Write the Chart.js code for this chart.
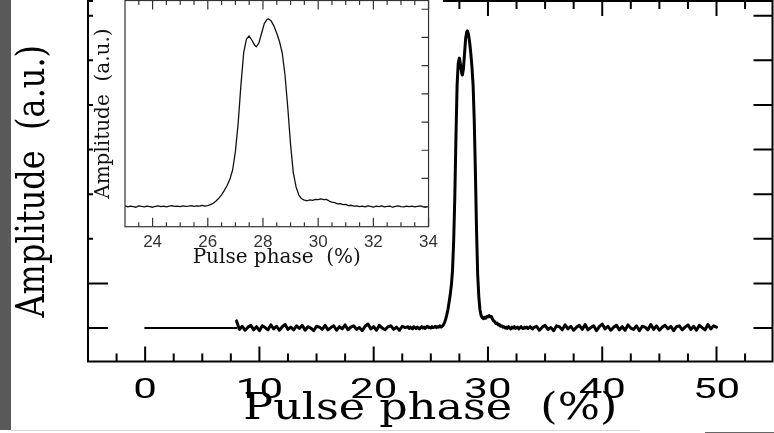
<html lang="en">
<head>
    <meta charset="UTF-8">
    <title>Pulse profile</title>
    <script src="https://cdn.jsdelivr.net/npm/chart.js"></script>
    <style>
        body { margin: 0; background: #fff; }
        #wrap { position: relative; width: 774px; height: 433px; overflow: hidden; }
        #main { position: absolute; left: 0; top: 0; }
        #insetBox { position: absolute; left: 93px; top: 0; width: 350px; height: 276px; background: #fff; }
        #strip { position: absolute; left: 0; top: 0; width: 11px; height: 430px; background: #595959; }
        #lineA { position: absolute; left: 11px; top: 430px; width: 629px; height: 1px; background: #d8d8d8; }
        #lineB { position: absolute; left: 705px; top: 432px; width: 69px; height: 1px; background: #666; }
    </style>
</head>
<body>
<div id="wrap">
    <canvas id="main" width="774" height="433"></canvas>
    <div id="insetBox"><canvas id="inset" width="350" height="276"></canvas></div>
    <div id="strip"></div>
    <div id="lineA"></div>
    <div id="lineB"></div>
</div>

<script>
    // --- data ---
    const xTitle = 'Pulse phase  (%)';
    const yTitle = 'Amplitude  (a.u.)';

    // flat (unsampled) stretch at the start
    const flatPhase = [0, 8];
    const flatAmplitude = [0, 0];

    // pulse phase (%) of the sampled profile
    const phase = [
        8, 8.25, 8.5, 8.75, 9, 9.25, 9.5, 9.75, 10, 10.25,
        10.5, 10.75, 11, 11.25, 11.5, 11.75, 12, 12.25, 12.5, 12.75,
        13, 13.25, 13.5, 13.75, 14, 14.25, 14.5, 14.75, 15, 15.25,
        15.5, 15.75, 16, 16.25, 16.5, 16.75, 17, 17.25, 17.5, 17.75,
        18, 18.25, 18.5, 18.75, 19, 19.25, 19.5, 19.75, 20, 20.25,
        20.5, 20.75, 21, 21.25, 21.5, 21.75, 22, 22.25, 22.5, 22.75,
        23, 23.1, 23.2, 23.3, 23.4, 23.5, 23.6, 23.7, 23.8, 23.9,
        24, 24.1, 24.2, 24.3, 24.4, 24.5, 24.6, 24.7, 24.8, 24.9,
        25, 25.1, 25.2, 25.3, 25.4, 25.5, 25.6, 25.7, 25.8, 25.9,
        26, 26.1, 26.2,
        26.3, 26.4, 26.5, 26.6, 26.7, 26.8, 26.9, 27, 27.1, 27.2,
        27.3, 27.4, 27.5, 27.6, 27.7, 27.76, 27.85, 27.95, 28.05, 28.15,
        28.2, 28.3, 28.4, 28.5, 28.6, 28.7, 28.8, 28.9, 29, 29.1,
        29.2, 29.3, 29.4, 29.5, 29.6, 29.7, 29.8, 29.9, 30, 30.1,
        30.2, 30.3, 30.4, 30.5, 30.6, 30.7, 30.8, 30.9, 31, 31.1,
        31.2, 31.3,
        31.4, 31.5, 31.6, 31.7, 31.8, 31.9, 32, 32.1, 32.2, 32.3,
        32.4, 32.5, 32.6, 32.7, 32.8, 32.9, 33, 33.1, 33.2, 33.3,
        33.4, 33.5, 33.6, 33.7, 33.8, 33.9, 34,
        34.25, 34.5, 34.75, 35, 35.25, 35.5, 35.75, 36, 36.25, 36.5,
        36.75, 37, 37.25, 37.5, 37.75, 38, 38.25, 38.5, 38.75, 39,
        39.25, 39.5, 39.75, 40, 40.25, 40.5, 40.75, 41, 41.25, 41.5,
        41.75, 42, 42.25, 42.5, 42.75, 43, 43.25, 43.5, 43.75, 44,
        44.25, 44.5, 44.75, 45, 45.25, 45.5, 45.75, 46, 46.25, 46.5,
        46.75, 47, 47.25, 47.5, 47.75, 48, 48.25, 48.5, 48.75, 49,
        49.25, 49.5, 49.75, 50
    ];

    // amplitude (a.u.), one per phase value
    const amplitude = [
        0.16, -0.03, 0.04, -0.05, 0.02, 0.06, -0.04, 0.03, -0.06, 0.05,
        0.01, -0.04, 0.07, -0.02, 0.04, -0.05, 0.03, 0.08, -0.03, 0.02,
        -0.04, 0.05, -0.01, 0.06, -0.05, 0.03, 0.00, -0.06, 0.04, 0.02,
        -0.03, 0.06, -0.04, 0.01, 0.05, -0.05, 0.03, -0.02, 0.07, -0.04,
        0.02, 0.05, -0.03, 0.01, -0.06, 0.04, 0.09, -0.02, 0.03, -0.05,
        0.06, 0.00, -0.04, 0.03, 0.05, -0.03, 0.02, -0.05, 0.04, 0.01,
        0.03, -0.01, 0.02, 0.00, -0.02, 0.03, 0.01, -0.01, 0.02, 0.00,
        -0.02, 0.01, 0.03, 0.00, 0.02, -0.01, 0.02, 0.04, 0.01, 0.02,
        0.00, 0.03, 0.01, 0.02, 0.04, 0.01, 0.03, 0.02, 0.05, 0.02,
        0.04, 0.07, 0.12,
        0.20, 0.30, 0.42, 0.58, 0.75, 0.97, 1.30, 1.95, 2.95, 4.30,
        5.45, 5.94, 6.05, 5.90, 5.72, 5.67, 5.80, 6.15, 6.50, 6.64,
        6.66, 6.58, 6.40, 6.15, 5.85, 5.44, 4.65, 3.50, 2.20, 1.20,
        0.70, 0.41, 0.28, 0.23, 0.21, 0.24, 0.22, 0.26, 0.25, 0.28,
        0.25, 0.26, 0.20, 0.16, 0.14, 0.10, 0.11, 0.07, 0.08, 0.04,
        0.05, 0.02,
        0.03, 0.00, 0.02, -0.01, 0.03, 0.01, -0.02, 0.02, 0.00, 0.03,
        -0.01, 0.01, 0.02, -0.02, 0.01, 0.03, 0.00, -0.01, 0.02, 0.00,
        0.02, -0.01, 0.01, 0.03, 0.00, -0.02, 0.01,
        0.04, -0.05, 0.02, 0.06, -0.03, 0.01, -0.06, 0.05, 0.03, -0.04,
        0.07, -0.02, 0.04, -0.05, 0.02, 0.06, -0.03, 0.08, -0.04, 0.01,
        0.05, -0.06, 0.03, 0.09, -0.02, 0.04, -0.05, 0.02, 0.06, -0.04,
        0.03, -0.05, 0.07, 0.00, -0.03, 0.05, -0.06, 0.04, 0.02, -0.04,
        0.08, -0.03, 0.05, -0.05, 0.02, 0.06, -0.02, 0.04, -0.06, 0.03,
        0.05, -0.04, 0.02, 0.07, -0.03, 0.04, -0.05, 0.06, 0.01, -0.04,
        0.08, -0.02, 0.05, 0.02
    ];

    // tick positions
    const mainMajorX = [0, 10, 20, 30, 40, 50];
    const mainMinorX = [-2.5, 2.5, 5, 7.5, 12.5, 15, 17.5, 22.5, 25, 27.5, 32.5, 35, 37.5, 42.5, 45, 47.5, 52.5];
    const insetMajorX = [24, 26, 28, 30, 32, 34];
    const insetMinorX = [23.5, 24.5, 25, 25.5, 26.5, 27, 27.5, 28.5, 29, 29.5, 30.5, 31, 31.5, 32.5, 33, 33.5];
    const ampTicks = [0, 1, 2, 3, 4, 5, 6, 7];

    const toPoints = (xs, ys) => xs.map((x, i) => ({ x: x, y: ys[i] }));

    // linear scale whose labels / title can be stretched sideways (the plot font is wide)
    const BaseLinear = Chart.registry.getScale('linear');
    class StretchLinear extends BaseLinear {
        drawLabels(chartArea) {
            const sx = this.options.ticks.stretch || 1;
            if (sx === 1) return super.drawLabels(chartArea);
            if (!this.options.ticks.display) return;
            const ctx = this.ctx;
            for (const item of this.getLabelItems(chartArea)) {
                const o = item.options;
                ctx.save();
                ctx.translate(o.translation[0], o.translation[1]);
                ctx.scale(sx, 1);
                ctx.font = item.font.string;
                ctx.fillStyle = o.color;
                ctx.textAlign = o.textAlign;
                ctx.textBaseline = o.textBaseline;
                ctx.fillText(item.label, 0, item.textOffset);
                ctx.restore();
            }
        }
        drawTitle() {
            const t = this.options.title;
            const sx = t.stretch || 1;
            if (!t.display || sx === 1) return super.drawTitle();
            const lh = (t.font.lineHeight || 1.2) * t.font.size;
            let cx, cy;
            if (this.isHorizontal()) {
                cx = (this.left + this.right) / 2;
                cy = this.bottom - lh / 2 - (t.padding.bottom || 0);
            } else {
                cx = this.left + lh / 2 + (t.padding.top || 0);
                cy = (this.top + this.bottom) / 2;
            }
            const ctx = this.ctx;
            ctx.save();
            ctx.translate(cx, cy);
            ctx.scale(sx, 1);
            ctx.translate(-cx, -cy);
            super.drawTitle();
            ctx.restore();
        }
    }
    StretchLinear.id = 'stretchLinear';
    StretchLinear.defaults = {};
    Chart.register(StretchLinear);

    // frame box + inward tick marks
    function frameTicks(cfg) {
        return {
            id: 'frameTicks',
            afterDatasetsDraw(chart) {
                const { ctx, chartArea: a, scales } = chart;
                const x = scales.x, y = scales.y;
                ctx.save();
                ctx.strokeStyle = cfg.color;
                ctx.lineWidth = cfg.width;
                ctx.beginPath();
                const xt = (list, len) => {
                    for (const v of list) {
                        const px = x.getPixelForValue(v);
                        ctx.moveTo(px, a.bottom); ctx.lineTo(px, a.bottom - len);
                        ctx.moveTo(px, a.top); ctx.lineTo(px, a.top + len);
                    }
                };
                xt(cfg.xMajor, cfg.xMajorLen);
                xt(cfg.xMinor, cfg.xMinorLen);
                for (const v of cfg.yTicks) {
                    const py = y.getPixelForValue(v);
                    if (cfg.yLeftLen) { ctx.moveTo(a.left, py); ctx.lineTo(a.left + cfg.yLeftLen, py); }
                    if (cfg.yRightLen) { ctx.moveTo(a.right, py); ctx.lineTo(a.right - cfg.yRightLen, py); }
                }
                ctx.stroke();
                ctx.strokeRect(a.left, a.top, a.right - a.left, a.bottom - a.top);
                ctx.restore();
            }
        };
    }

    const common = {
        responsive: false,
        animation: false,
        events: [],
        elements: {
            point: { radius: 0 },
            line: { borderColor: '#000', tension: 0, borderJoinStyle: 'round', borderCapStyle: 'round' }
        },
        plugins: { legend: { display: false }, tooltip: { enabled: false } }
    };

    // main plot
    new Chart(document.getElementById('main'), {
        type: 'line',
        data: {
            datasets: [
                { data: toPoints(flatPhase, flatAmplitude), borderWidth: 2 },
                { data: toPoints(phase, amplitude), borderWidth: 3 }
            ]
        },
        options: Object.assign({}, common, {
            layout: { padding: { left: 0, top: 1, right: 1.5, bottom: 0 } },
            scales: {
                x: {
                    type: 'stretchLinear', min: -5, max: 54.9,
                    grid: { display: false, drawTicks: false }, border: { display: false },
                    afterBuildTicks: s => { s.ticks = mainMajorX.map(v => ({ value: v })); },
                    afterFit: s => { s.height = 71.5; },
                    ticks: {
                        autoSkip: false, maxRotation: 0, padding: 12.5, stretch: 1.5,
                        color: '#000', font: { family: 'Roboto', size: 28, weight: 'normal' }
                    },
                    title: {
                        display: true, text: xTitle, color: '#000', stretch: 1.17,
                        font: { family: 'DejaVu Serif', size: 38 }, padding: { top: 0, bottom: 1.3 }
                    }
                },
                y: {
                    type: 'stretchLinear', min: -0.75, max: 7.33,
                    grid: { display: false, drawTicks: false }, border: { display: false },
                    ticks: { display: false },
                    afterFit: s => { s.width = 88; },
                    title: {
                        display: true, text: yTitle, color: '#000', stretch: 1.24,
                        font: { family: 'DejaVu Serif', size: 32 }, padding: { top: 14, bottom: 0 }
                    }
                }
            }
        }),
        plugins: [frameTicks({
            color: '#000', width: 2,
            xMajor: mainMajorX, xMinor: mainMinorX, xMajorLen: 15, xMinorLen: 8,
            yTicks: ampTicks, yLeftLen: 20, yRightLen: 19
        })]
    });

    // inset zoom on the pulse
    new Chart(document.getElementById('inset'), {
        type: 'line',
        data: {
            datasets: [
                { data: toPoints(phase, amplitude), borderWidth: 1.3, borderColor: '#111', clip: 0 }
            ]
        },
        options: Object.assign({}, common, {
            layout: { padding: { left: 0, top: 0.5, right: 12.3, bottom: 0 } },
            scales: {
                x: {
                    type: 'stretchLinear', min: 23, max: 34,
                    grid: { display: false, drawTicks: false }, border: { display: false },
                    afterBuildTicks: s => { s.ticks = insetMajorX.map(v => ({ value: v })); },
                    afterFit: s => { s.height = 49.3; },
                    ticks: {
                        autoSkip: false, maxRotation: 0, padding: 5,
                        color: '#333', font: { family: 'Liberation Sans', size: 17 }
                    },
                    title: {
                        display: true, text: xTitle, color: '#111',
                        font: { family: 'DejaVu Serif', size: 20 }, padding: { top: 0, bottom: 6 }
                    }
                },
                y: {
                    type: 'stretchLinear', min: -0.71, max: 7.31,
                    grid: { display: false, drawTicks: false }, border: { display: false },
                    ticks: { display: false },
                    afterFit: s => { s.width = 32; },
                    title: {
                        display: true, text: yTitle, color: '#111',
                        font: { family: 'DejaVu Serif', size: 20, lineHeight: 1 }, padding: { top: 1, bottom: 0 }
                    }
                }
            }
        }),
        plugins: [frameTicks({
            color: '#333', width: 1.2,
            xMajor: insetMajorX, xMinor: insetMinorX, xMajorLen: 9, xMinorLen: 4.5,
            yTicks: ampTicks, yLeftLen: 0, yRightLen: 7
        })]
    });
</script>
</body>
</html>
